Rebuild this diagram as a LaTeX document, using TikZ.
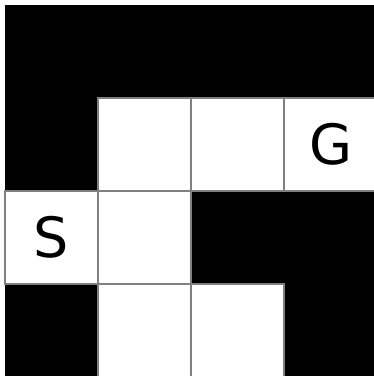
\documentclass[tikz,border=0pt]{standalone}
\usepackage{fontspec}
\setmainfont{DejaVu Sans}

\begin{document}
\begin{tikzpicture}[x=1cm,y=1cm,
    wall/.style={fill=black},
    free/.style={fill=white, draw=gray, line width=0.4pt},
    cellmark/.style={font=\fontsize{17}{20}\selectfont, inner sep=0pt}]

  % Canvas (small white margin at left and top)
  \useasboundingbox[fill=white] (-0.054,0.011) rectangle (3.957,4.054);

  % Walls (column/row, row 0 at the top)
  \fill[wall] \foreach \c/\r in {0/0,1/0,2/0,3/0,0/1,2/2,3/2,0/3,3/3} {
    (\c,3-\r) rectangle ++(1,1)
  };

  % Free cells
  \foreach \c/\r in {1/1,2/1,3/1,0/2,1/2,1/3,2/3} {
    \draw[free] (\c,3-\r) rectangle ++(1,1);
  }

  % Start and goal
  \node[cellmark] (start) at (0.5,1.5) {S};
  \node[cellmark] (goal) at (3.5,2.5) {G};

\end{tikzpicture}
\end{document}
